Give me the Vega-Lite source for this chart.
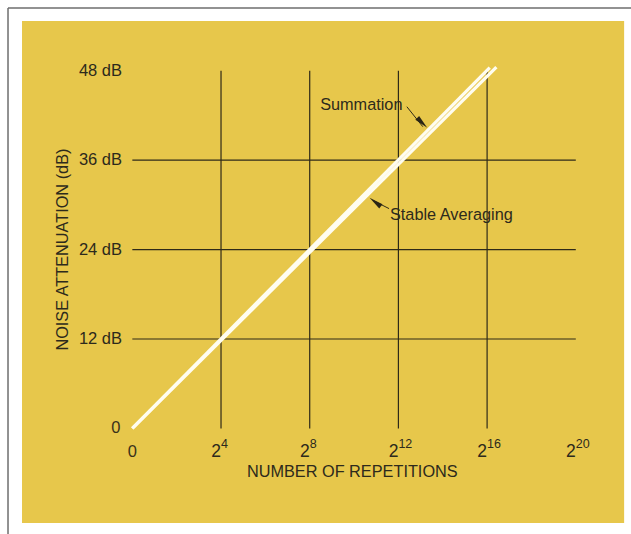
{
  "$schema": "https://vega.github.io/schema/vega-lite/v6.json",
  "width": 631,
  "height": 534,
  "autosize": "none",
  "padding": 0,
  "background": "white",
  "config": {"view": {"stroke": null}, "text": {"font": "Liberation Sans"}},
  "layer": [
    {
      "data": {"values": [{"x1": -4.975, "x2": 22.18, "y1": -12.7, "y2": 54.68}]},
      "mark": {"type": "rect", "fill": "#E7C74B"},
      "encoding": {
        "x": {"field": "x1", "type": "quantitative", "scale": {"domain": [-5.968, 22.49], "nice": false, "zero": false}, "axis": null},
        "x2": {"field": "x2"},
        "y": {"field": "y1", "type": "quantitative", "scale": {"domain": [-14.17, 57.5], "nice": false, "zero": false}, "axis": null},
        "y2": {"field": "y2"}
      }
    },
    {
      "data": {"values": [
        {"x1": -5.607, "x2": 22.49, "y1": 56.43, "y2": 56.43},
        {"x1": -5.607, "x2": -5.607, "y1": 56.43, "y2": -14.17}
      ]},
      "mark": {"type": "rule", "color": "#6e6e6e", "strokeWidth": 1.5},
      "encoding": {
        "x": {"field": "x1", "type": "quantitative", "scale": {"domain": [-5.968, 22.49], "nice": false, "zero": false}, "axis": null},
        "x2": {"field": "x2"},
        "y": {"field": "y1", "type": "quantitative", "scale": {"domain": [-14.17, 57.5], "nice": false, "zero": false}, "axis": null},
        "y2": {"field": "y2"}
      }
    },
    {
      "data": {"values": [
        {"x1": 4, "x2": 4, "y1": 0, "y2": 48},
        {"x1": 8, "x2": 8, "y1": 0, "y2": 48},
        {"x1": 12, "x2": 12, "y1": 0, "y2": 48},
        {"x1": 16, "x2": 16, "y1": 0, "y2": 48},
        {"x1": 0, "x2": 20, "y1": 12, "y2": 12},
        {"x1": 0, "x2": 20, "y1": 24, "y2": 24},
        {"x1": 0, "x2": 20, "y1": 36, "y2": 36}
      ]},
      "mark": {"type": "rule", "color": "#2f2a18", "strokeWidth": 1.2},
      "encoding": {
        "x": {"field": "x1", "type": "quantitative", "scale": {"domain": [-5.968, 22.49], "nice": false, "zero": false}, "axis": null},
        "x2": {"field": "x2"},
        "y": {"field": "y1", "type": "quantitative", "scale": {"domain": [-14.17, 57.5], "nice": false, "zero": false}, "axis": null},
        "y2": {"field": "y2"}
      }
    },
    {
      "data": {"values": [
        {"series": "Summation", "exp": 0, "db": 0},
        {"series": "Summation", "exp": 16.12, "db": 48.42},
        {"series": "Stable Averaging", "exp": 0, "db": 0},
        {"series": "Stable Averaging", "exp": 16.42, "db": 48.5}
      ]},
      "mark": {"type": "line", "color": "#FFFDF0", "strokeWidth": 3.2, "strokeCap": "butt"},
      "encoding": {
        "x": {"field": "exp", "type": "quantitative", "scale": {"domain": [-5.968, 22.49], "nice": false, "zero": false}, "axis": null},
        "y": {"field": "db", "type": "quantitative", "scale": {"domain": [-14.17, 57.5], "nice": false, "zero": false}, "axis": null},
        "detail": {"field": "series", "type": "nominal"}
      }
    },
    {
      "data": {"values": [
        {"x1": 12.38, "x2": 13.1, "y1": 43.18, "y2": 40.5},
        {"x1": 11.58, "x2": 10.85, "y1": 29.5, "y2": 30.6}
      ]},
      "mark": {"type": "rule", "color": "#2f2a18", "strokeWidth": 1},
      "encoding": {
        "x": {"field": "x1", "type": "quantitative", "scale": {"domain": [-5.968, 22.49], "nice": false, "zero": false}, "axis": null},
        "x2": {"field": "x2"},
        "y": {"field": "y1", "type": "quantitative", "scale": {"domain": [-14.17, 57.5], "nice": false, "zero": false}, "axis": null},
        "y2": {"field": "y2"}
      }
    },
    {
      "data": {"values": [
        {"x": 13.3, "y": 40.35, "dir": -45},
        {"x": 10.7, "y": 30.95, "dir": 127}
      ]},
      "mark": {"type": "point", "shape": "M0,0L-0.38,-2L0.38,-2Z", "filled": true, "color": "#2a2515", "size": 200, "opacity": 1},
      "encoding": {
        "x": {"field": "x", "type": "quantitative", "scale": {"domain": [-5.968, 22.49], "nice": false, "zero": false}, "axis": null},
        "y": {"field": "y", "type": "quantitative", "scale": {"domain": [-14.17, 57.5], "nice": false, "zero": false}, "axis": null},
        "angle": {"field": "dir", "type": "quantitative", "scale": null}
      }
    },
    {
      "data": {"values": [
        {"x": 8.47, "y": 43.41, "label": "Summation"},
        {"x": 11.62, "y": 28.64, "label": "Stable Averaging"}
      ]},
      "mark": {"type": "text", "align": "left", "baseline": "middle", "fontSize": 16.3, "color": "#2d2a1c"},
      "encoding": {
        "x": {"field": "x", "type": "quantitative", "scale": {"domain": [-5.968, 22.49], "nice": false, "zero": false}, "axis": null},
        "y": {"field": "y", "type": "quantitative", "scale": {"domain": [-14.17, 57.5], "nice": false, "zero": false}, "axis": null},
        "text": {"field": "label"}
      }
    },
    {
      "data": {"values": [
        {"x": -0.465, "y": 48, "label": "48 dB"},
        {"x": -0.465, "y": 36, "label": "36 dB"},
        {"x": -0.465, "y": 24, "label": "24 dB"},
        {"x": -0.465, "y": 12, "label": "12 dB"}
      ]},
      "mark": {"type": "text", "align": "right", "baseline": "middle", "fontSize": 16.5, "color": "#2d2a1c"},
      "encoding": {
        "x": {"field": "x", "type": "quantitative", "scale": {"domain": [-5.968, 22.49], "nice": false, "zero": false}, "axis": null},
        "y": {"field": "y", "type": "quantitative", "scale": {"domain": [-14.17, 57.5], "nice": false, "zero": false}, "axis": null},
        "text": {"field": "label"}
      }
    },
    {
      "data": {"values": [
        {"x": -0.74, "y": 0, "label": "0"},
        {"x": 0, "y": -3.17, "label": "0"}
      ]},
      "mark": {"type": "text", "align": "center", "baseline": "middle", "fontSize": 16.5, "color": "#3a321a"},
      "encoding": {
        "x": {"field": "x", "type": "quantitative", "scale": {"domain": [-5.968, 22.49], "nice": false, "zero": false}, "axis": null},
        "y": {"field": "y", "type": "quantitative", "scale": {"domain": [-14.17, 57.5], "nice": false, "zero": false}, "axis": null},
        "text": {"field": "label"}
      }
    },
    {
      "data": {"values": [
        {"x": 4, "y": -3.17, "label": "2"},
        {"x": 8, "y": -3.17, "label": "2"},
        {"x": 12, "y": -3.17, "label": "2"},
        {"x": 16, "y": -3.17, "label": "2"},
        {"x": 20, "y": -3.17, "label": "2"}
      ]},
      "mark": {"type": "text", "align": "right", "baseline": "middle", "fontSize": 17.5, "color": "#2d2a1c"},
      "encoding": {
        "x": {"field": "x", "type": "quantitative", "scale": {"domain": [-5.968, 22.49], "nice": false, "zero": false}, "axis": null},
        "y": {"field": "y", "type": "quantitative", "scale": {"domain": [-14.17, 57.5], "nice": false, "zero": false}, "axis": null},
        "text": {"field": "label"}
      }
    },
    {
      "data": {"values": [
        {"x": 4, "y": -2.1, "label": "4"},
        {"x": 8, "y": -2.1, "label": "8"},
        {"x": 12, "y": -2.1, "label": "12"},
        {"x": 16, "y": -2.1, "label": "16"},
        {"x": 20, "y": -2.1, "label": "20"}
      ]},
      "mark": {"type": "text", "align": "left", "baseline": "middle", "fontSize": 12.5, "color": "#2d2a1c"},
      "encoding": {
        "x": {"field": "x", "type": "quantitative", "scale": {"domain": [-5.968, 22.49], "nice": false, "zero": false}, "axis": null},
        "y": {"field": "y", "type": "quantitative", "scale": {"domain": [-14.17, 57.5], "nice": false, "zero": false}, "axis": null},
        "text": {"field": "label"}
      }
    },
    {
      "data": {"values": [
        {"x": 9.92, "y": -5.85, "label": "NUMBER OF REPETITIONS", "rot": 0},
        {"x": -3.126, "y": 24, "label": "NOISE ATTENUATION (dB)", "rot": -90}
      ]},
      "mark": {"type": "text", "align": "center", "baseline": "middle", "fontSize": 16.3, "color": "#2d2a1c"},
      "encoding": {
        "x": {"field": "x", "type": "quantitative", "scale": {"domain": [-5.968, 22.49], "nice": false, "zero": false}, "axis": null},
        "y": {"field": "y", "type": "quantitative", "scale": {"domain": [-14.17, 57.5], "nice": false, "zero": false}, "axis": null},
        "text": {"field": "label"},
        "angle": {"field": "rot", "type": "quantitative", "scale": null}
      }
    }
  ]
}
